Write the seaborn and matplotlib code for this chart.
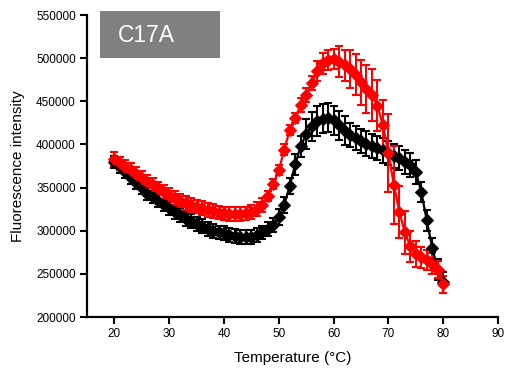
import numpy as np
import pandas as pd
import matplotlib
matplotlib.use("Agg")
import matplotlib.pyplot as plt
import seaborn as sns
from matplotlib.patches import Rectangle

temperature = list(range(20, 81))

black_mean = [380000, 374000, 368000, 361000, 355000, 349000, 343000, 339000, 335000, 330000,
              326000, 322000, 318000, 314000, 311000, 308000, 305000, 302000, 300000, 298000,
              297000, 295000, 294000, 293000, 293000, 293000, 295000, 298000, 302000, 307000,
              316000, 330000, 352000, 377000, 398000, 412000, 421000, 427000, 430000, 431000,
              428000, 422000, 416000, 411000, 407000, 404000, 401000, 398000, 396000, 393000,
              390000, 387000, 384000, 380000, 376000, 368000, 345000, 312000, 280000, 255000,
              240000]
black_err = [7000] * 10 + [8000] * 20 + [9000, 9000, 9000, 12000, 12000] + [17000] * 8 + \
            [14000] * 13 + [12000] * 5

red_mean = [383000, 378000, 374000, 370000, 366000, 361000, 357000, 353000, 349000, 345000,
            341000, 338000, 335000, 332000, 330000, 328000, 326000, 324000, 323000, 321000,
            320000, 319000, 319000, 319000, 320000, 322000, 325000, 330000, 340000, 354000,
            370000, 394000, 417000, 431000, 446000, 457000, 471000, 485000, 494000, 498000,
            499000, 496000, 492000, 487000, 481000, 472000, 464000, 457000, 445000, 422000,
            390000, 353000, 322000, 298000, 282000, 273000, 269000, 266000, 262000, 255000,
            238000]
red_err = [8000] * 28 + [6000] * 6 + [8000] * 3 + [12000] * 4 + [18000, 18000] + \
          [22000, 24000, 26000, 28000, 30000, 30000, 30000] + \
          [45000, 45000, 30000, 25000, 18000, 15000, 12000, 12000, 12000, 10000, 10000]

x_ticks = [20, 30, 40, 50, 60, 70, 80, 90]
y_ticks = [200000, 250000, 300000, 350000, 400000, 450000, 500000, 550000]

df = pd.concat([
    pd.DataFrame({"T": temperature, "F": black_mean, "err": black_err, "s": "WT"}),
    pd.DataFrame({"T": temperature, "F": red_mean, "err": red_err, "s": "C17A"}),
])

sns.set_style("ticks")
plt.rcParams["font.family"] = ["Liberation Sans", "DejaVu Sans"]
plt.rcParams["text.color"] = "black"
plt.rcParams["axes.labelcolor"] = "black"
plt.rcParams["xtick.color"] = "black"
plt.rcParams["ytick.color"] = "black"

fig = plt.figure(figsize=(5.07, 3.74), dpi=100)
ax = fig.add_axes([87 / 507, (374 - 317) / 374, (498 - 87) / 507, (317 - 15) / 374])

colors = {"WT": "black", "C17A": "#ff0000"}
for name in ["WT", "C17A"]:
    d = df[df["s"] == name]
    ax.errorbar(d["T"], d["F"], yerr=d["err"], fmt="none", ecolor=colors[name],
                elinewidth=1.5, capsize=3.2, capthick=1.5, zorder=2)
    sns.lineplot(data=d, x="T", y="F", color=colors[name], marker="D", markersize=6,
                 markeredgecolor=colors[name], linewidth=1.6, ax=ax, zorder=3,
                 errorbar=None, legend=False)

ax.set_xlim(15, 90)
ax.set_ylim(200000, 550000)
ax.set_xticks(x_ticks)
ax.set_yticks(y_ticks)
ax.set_xticklabels([str(v) for v in x_ticks], fontsize=8.5)
ax.set_yticklabels([str(v) for v in y_ticks], fontsize=8.5)
ax.set_xlabel("Temperature (\u00b0C)", fontsize=11, labelpad=8)
ax.set_ylabel("Fluorescence intensity", fontsize=11, labelpad=8)
for side in ["top", "right"]:
    ax.spines[side].set_visible(False)
for side in ["left", "bottom"]:
    ax.spines[side].set_linewidth(1.6)
    ax.spines[side].set_color("black")
ax.tick_params(direction="out", length=5, width=1.5, pad=3)

x0 = (100 - 87) / 411
x1 = (220 - 87) / 411
y0 = (317 - 58) / 302
y1 = (317 - 11) / 302
ax.add_patch(Rectangle((x0, y0), x1 - x0, y1 - y0, transform=ax.transAxes,
                       facecolor="#808080", edgecolor="none", clip_on=False, zorder=5))
ax.text((118 - 87) / 411, (317 - 35) / 302, "C17A", transform=ax.transAxes,
        color="white", fontsize=16.5, ha="left", va="center", zorder=6)

fig.savefig("out.png", dpi=100)
